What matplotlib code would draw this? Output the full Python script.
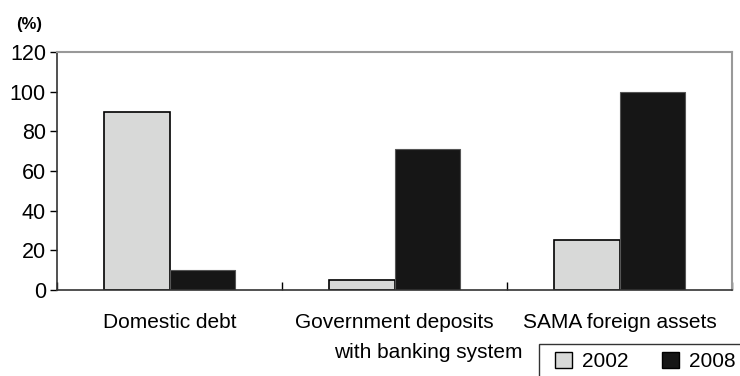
import numpy as np
import matplotlib.pyplot as plt
from matplotlib.patches import Patch, Rectangle

plt.rcParams['font.family'] = ['Liberation Sans', 'DejaVu Sans']

categories = ["Domestic debt", "Government deposits", "SAMA foreign assets"]
years = ["2002", "2008"]
vals_2002 = [90, 5, 25]
vals_2008 = [10, 71, 100]
colors = ["#d8d9d8", "#161616"]

fig = plt.figure(figsize=(7.4, 3.76), dpi=100)
ax = fig.add_axes([57/740, 1 - 290/376, (732 - 57)/740, (290 - 52)/376])

x = np.arange(len(categories))
w = 0.29
ax.bar(x - w/2, vals_2002, w, color=colors[0], edgecolor="black", linewidth=1.2)
ax.bar(x + w/2, vals_2008, w, color=colors[1], edgecolor="#555555", linewidth=0.8)

ax.set_xlim(-0.5, 2.5)
ax.set_ylim(0, 120)
ax.set_yticks(range(0, 121, 20))
ax.tick_params(axis="y", labelsize=15.5, length=5, width=1, direction="out", pad=3)
ax.set_xticks([-0.5, 0.5, 1.5, 2.5])
ax.set_xticklabels([])
ax.tick_params(axis="x", length=6, width=1, direction="in")
for s in ["top", "right"]:
    ax.spines[s].set_color("#999999")
    ax.spines[s].set_linewidth(1.5)
for s in ["left", "bottom"]:
    ax.spines[s].set_color("#333333")
    ax.spines[s].set_linewidth(1.2)

for i, c in enumerate(categories):
    ax.text(i, -32/238, c, transform=ax.get_xaxis_transform(), ha="center", va="center", fontsize=15)
ax.text(1.15, -62/238, "with banking system", transform=ax.get_xaxis_transform(),
        ha="center", va="center", fontsize=15)

fig.text(16/740, 1 - 25/376, "(%)", fontsize=12, fontweight="bold", va="center")

# legend box runs off the right and bottom edges, as in the source
fig.patches.append(Rectangle((539/740, -0.05), 0.4, (376 - 344)/376 + 0.05,
                             transform=fig.transFigure, facecolor="white",
                             edgecolor="#333333", linewidth=1))
handles = [Patch(facecolor=colors[i], edgecolor="black", label=years[i]) for i in range(2)]
leg = fig.legend(handles=handles, loc="upper left", bbox_to_anchor=(551/740, 1 - 348/376),
                 ncol=2, frameon=False, fontsize=15, handlelength=0.8,
                 handleheight=0.8, handletextpad=0.5, columnspacing=1.6, borderpad=0.2,
                 borderaxespad=0)

fig.savefig("out.png", dpi=100)
